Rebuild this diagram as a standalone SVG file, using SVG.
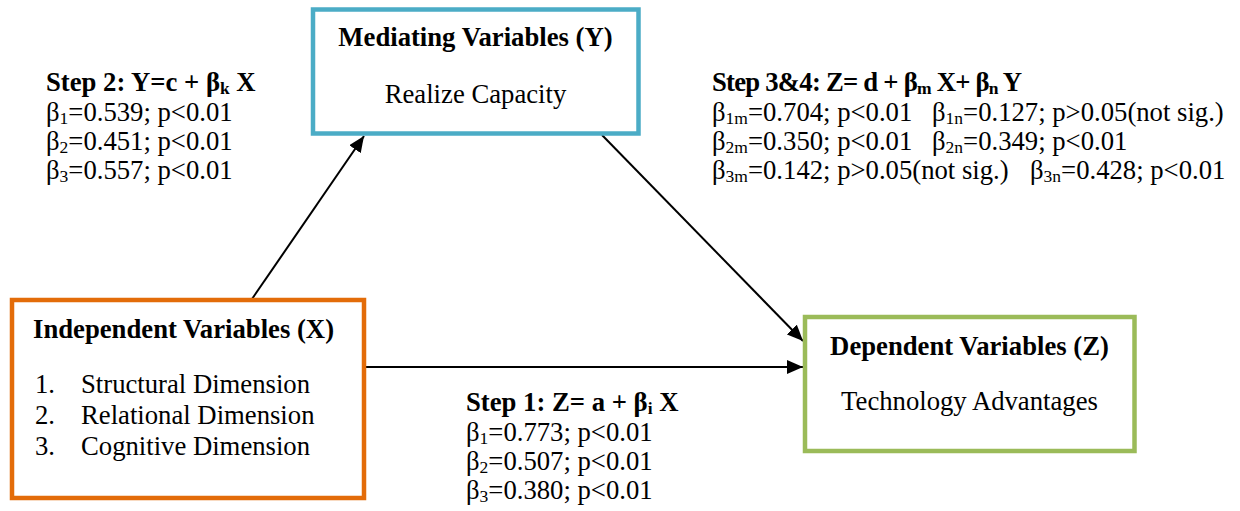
<svg xmlns="http://www.w3.org/2000/svg" width="1240" height="511" viewBox="0 0 1240 511">
  <defs>
    <marker id="arrow" markerUnits="userSpaceOnUse" markerWidth="16" markerHeight="14" refX="16" refY="7" orient="auto">
      <path d="M0,0 L16,7 L0,14 Z" fill="#000"/>
    </marker>
    <style>
      text { font-family: "Liberation Serif", "Times New Roman", serif; font-size: 26.7px; fill: #000; }
      .b { font-weight: bold; }
      .s { font-size: 17.5px; }
      .box { fill: #fff; stroke-width: 4.5; }
      .conn { stroke: #000; stroke-width: 2; fill: none; marker-end: url(#arrow); }
    </style>
  </defs>
  <rect width="1240" height="511" fill="#fff"/>

  <g id="connectors">
    <line class="conn" x1="252" y1="299" x2="364" y2="136"/>
    <line class="conn" x1="602" y1="135" x2="803" y2="341"/>
    <line class="conn" x1="366" y1="367" x2="803" y2="367"/>
  </g>

  <g id="mediating">
    <rect class="box" x="313" y="9.5" width="325.5" height="124" stroke="#4BACC6"/>
    <text class="b" x="475.5" y="46" text-anchor="middle">Mediating Variables (Y)</text>
    <text x="475.5" y="103" text-anchor="middle">Realize Capacity</text>
  </g>

  <g id="independent">
    <rect class="box" x="12" y="300" width="352" height="198" stroke="#E36C09"/>
    <text class="b" x="33" y="338">Independent Variables (X)</text>
    <text x="35" y="393">1.</text><text x="81" y="393">Structural Dimension</text>
    <text x="35" y="424">2.</text><text x="81" y="424">Relational Dimension</text>
    <text x="35" y="455">3.</text><text x="81" y="455">Cognitive Dimension</text>
  </g>

  <g id="dependent">
    <rect class="box" x="805" y="317" width="329.5" height="134" stroke="#9BBB59"/>
    <text class="b" x="969.5" y="355" text-anchor="middle">Dependent Variables (Z)</text>
    <text x="969.5" y="410" text-anchor="middle">Technology Advantages</text>
  </g>

  <g id="step2">
    <text class="b" x="46" y="91">Step 2: Y=c + β<tspan class="s" dy="3">k</tspan><tspan dy="-3"> X</tspan></text>
    <text x="46" y="121">β<tspan class="s" dy="3">1</tspan><tspan dy="-3">=0.539; p&lt;0.01</tspan></text>
    <text x="46" y="150">β<tspan class="s" dy="3">2</tspan><tspan dy="-3">=0.451; p&lt;0.01</tspan></text>
    <text x="46" y="179">β<tspan class="s" dy="3">3</tspan><tspan dy="-3">=0.557; p&lt;0.01</tspan></text>
  </g>

  <g id="step34">
    <text class="b" x="712" y="91" textLength="310" lengthAdjust="spacing">Step 3&amp;4: Z= d + β<tspan class="s" dy="3">m</tspan><tspan dy="-3"> X+ β</tspan><tspan class="s" dy="3">n</tspan><tspan dy="-3"> Y</tspan></text>
    <text x="712" y="121">β<tspan class="s" dy="3">1m</tspan><tspan dy="-3">=0.704; p&lt;0.01</tspan></text>
    <text x="932" y="121">β<tspan class="s" dy="3">1n</tspan><tspan dy="-3">=0.127; p&gt;0.05(not sig.)</tspan></text>
    <text x="712" y="150">β<tspan class="s" dy="3">2m</tspan><tspan dy="-3">=0.350; p&lt;0.01</tspan></text>
    <text x="932" y="150">β<tspan class="s" dy="3">2n</tspan><tspan dy="-3">=0.349; p&lt;0.01</tspan></text>
    <text x="712" y="179">β<tspan class="s" dy="3">3m</tspan><tspan dy="-3">=0.142; p&gt;0.05(not sig.)</tspan></text>
    <text x="1030" y="179">β<tspan class="s" dy="3">3n</tspan><tspan dy="-3">=0.428; p&lt;0.01</tspan></text>
  </g>

  <g id="step1">
    <text class="b" x="466" y="411">Step 1: Z= a + β<tspan class="s" dy="3">i</tspan><tspan dy="-3"> X</tspan></text>
    <text x="466" y="441">β<tspan class="s" dy="3">1</tspan><tspan dy="-3">=0.773; p&lt;0.01</tspan></text>
    <text x="466" y="470">β<tspan class="s" dy="3">2</tspan><tspan dy="-3">=0.507; p&lt;0.01</tspan></text>
    <text x="466" y="499">β<tspan class="s" dy="3">3</tspan><tspan dy="-3">=0.380; p&lt;0.01</tspan></text>
  </g>
</svg>
